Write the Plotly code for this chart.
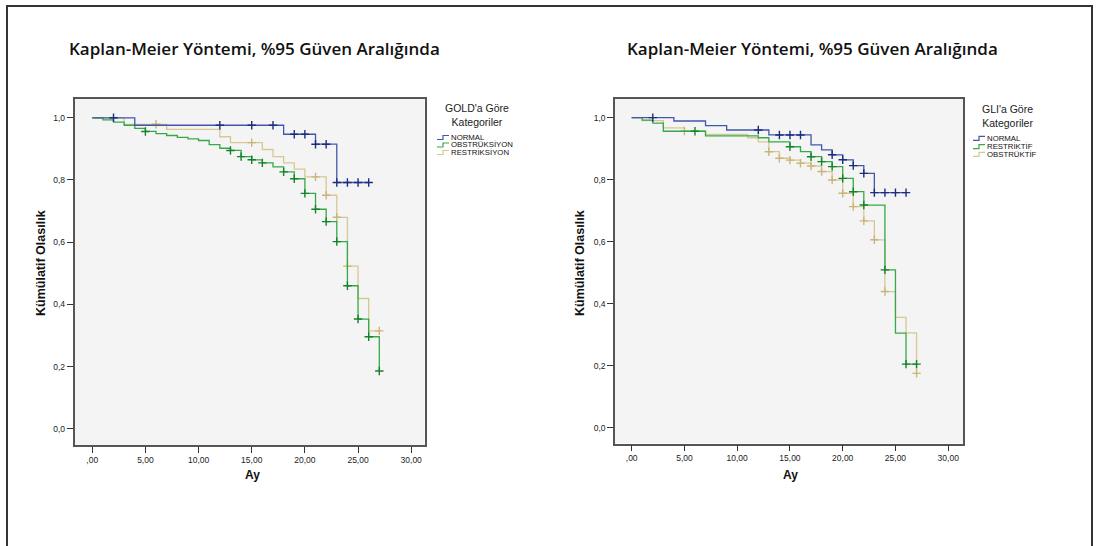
import numpy as np
import plotly.graph_objects as go

W, H = 1097, 546

# ---------------- data ----------------
chart_title = "Kaplan-Meier Yöntemi, %95 Güven Aralığında"
x_title = "Ay"
y_title = "Kümülatif Olasılık"
x_ticks = [0, 5, 10, 15, 20, 25, 30]
x_tick_labels = [",00", "5,00", "10,00", "15,00", "20,00", "25,00", "30,00"]
y_ticks = [0.0, 0.2, 0.4, 0.6, 0.8, 1.0]
y_tick_labels = ["0,0", "0,2", "0,4", "0,6", "0,8", "1,0"]

# Left chart: GOLD categories
gold_legend_title = "GOLD'a Göre<br>Kategoriler"
gold_names = ["NORMAL", "OBSTRÜKSİYON", "RESTRİKSİYON"]
gold_normal_t = [0, 4, 18, 21, 23]
gold_normal_s = [1.0, 0.976, 0.947, 0.915, 0.792]
gold_normal_end = 26
gold_normal_cens = [2, 12, 15, 17, 19, 20, 21, 22, 23, 24, 25, 26]

gold_obs_t = [0, 1, 2, 3, 4, 5, 6, 7, 8, 9, 10, 11, 12, 13, 14, 15, 16, 17, 18, 19, 20, 21, 22, 23, 24, 25, 26, 27]
gold_obs_s = [1.0, 0.993, 0.986, 0.976, 0.966, 0.956, 0.949, 0.943, 0.937, 0.932, 0.927, 0.914, 0.902, 0.895,
              0.875, 0.865, 0.855, 0.842, 0.826, 0.804, 0.757, 0.706, 0.666, 0.602, 0.460, 0.353, 0.296, 0.186]
gold_obs_end = 27
gold_obs_cens = [5, 13, 14, 15, 16, 18, 19, 20, 21, 22, 23, 24, 25, 26, 27]

gold_res_t = [0, 3, 7, 12, 13, 16, 17, 18, 19, 20, 22, 23, 24, 25, 26]
gold_res_s = [1.0, 0.979, 0.963, 0.939, 0.920, 0.898, 0.875, 0.855, 0.835, 0.810, 0.751, 0.680, 0.523, 0.419, 0.315]
gold_res_end = 27
gold_res_cens = [6, 15, 21, 22, 23, 24, 27]

# Right chart: GLI categories
gli_legend_title = "GLI'a Göre<br>Kategoriler"
gli_names = ["NORMAL", "RESTRİKTİF", "OBSTRÜKTİF"]
gli_normal_t = [0, 4, 7, 9, 13, 17, 18, 19, 20, 21, 22, 23]
gli_normal_s = [1.0, 0.989, 0.974, 0.960, 0.944, 0.912, 0.896, 0.880, 0.864, 0.845, 0.820, 0.758]
gli_normal_end = 26
gli_normal_cens = [2, 12, 14, 15, 16, 19, 20, 21, 22, 23, 24, 25, 26]

gli_res_t = [0, 1, 2, 3, 7, 12, 13, 15, 16, 17, 18, 19, 20, 21, 22, 24, 25, 26]
gli_res_s = [1.0, 0.992, 0.982, 0.956, 0.941, 0.935, 0.922, 0.906, 0.890, 0.874, 0.858, 0.842, 0.804,
             0.761, 0.718, 0.509, 0.305, 0.205]
gli_res_end = 27
gli_res_cens = [6, 15, 17, 18, 19, 20, 21, 22, 24, 26, 27]

gli_obs_t = [0, 1, 3, 5, 7, 11, 12, 13, 14, 15, 16, 17, 18, 19, 20, 21, 22, 23, 24, 25, 26, 27]
gli_obs_s = [1.0, 0.99, 0.967, 0.957, 0.946, 0.935, 0.922, 0.890, 0.869, 0.863, 0.853, 0.844, 0.826,
             0.799, 0.756, 0.713, 0.667, 0.606, 0.439, 0.356, 0.306, 0.175]
gli_obs_end = 27
gli_obs_cens = [5, 13, 14, 15, 16, 17, 18, 19, 20, 21, 22, 23, 24, 27]

# ---------------- styles ----------------
line_colors = ["#4257AA", "#35A948", "#D8C793"]
cens_colors = ["#1E2C80", "#15822A", "#C9B57A"]
frame_color = "#555555"
plot_bg = "#F4F4F4"
tick_font = dict(family="Liberation Sans", size=8.5, color="#222")


def px(x):
    return x / W


def py(y):
    return 1 - y / H


fig = go.Figure()

panels = [
    dict(xa="x", ya="y", names=gold_names, legend_title=gold_legend_title,
         series=[(gold_normal_t, gold_normal_s, gold_normal_end, gold_normal_cens),
                 (gold_obs_t, gold_obs_s, gold_obs_end, gold_obs_cens),
                 (gold_res_t, gold_res_s, gold_res_end, gold_res_cens)],
         box=(74.5, 98.5, 424.5, 445.0), xr=[-1.67, 31.25], yr=[-0.052, 1.062],
         title_x=67, ytitle_x=41, xtitle_x=252, leg_x=437, leg_title_x=477,
         leg_y=[137.5, 145.0, 152.5], leg_title_y=115),
    dict(xa="x2", ya="y2", names=gli_names, legend_title=gli_legend_title,
         series=[(gli_normal_t, gli_normal_s, gli_normal_end, gli_normal_cens),
                 (gli_res_t, gli_res_s, gli_res_end, gli_res_cens),
                 (gli_obs_t, gli_obs_s, gli_obs_end, gli_obs_cens)],
         box=(615.0, 99.0, 963.0, 443.5), xr=[-1.58, 31.4], yr=[-0.051, 1.060],
         title_x=625, ytitle_x=580, xtitle_x=790, leg_x=973, leg_title_x=1007,
         leg_y=[138.3, 146.7, 154.3], leg_title_y=116),
]

shapes = []
annotations = []

# outer frame
shapes.append(dict(type="rect", xref="paper", yref="paper", x0=px(7), x1=px(1092), y0=-0.05, y1=py(6),
                   line=dict(color="#333333", width=2), fillcolor="rgba(0,0,0,0)", layer="above"))

for pi, p in enumerate(panels):
    order = [2, 1, 0]  # draw blue last (on top)
    for si in order:
        t, s, end, cens = p["series"][si]
        xs = list(t) + [end]
        ys = list(s) + [s[-1]]
        fig.add_trace(go.Scatter(x=xs, y=ys, mode="lines", line=dict(color=line_colors[si], width=1.3, shape="hv"),
                                 xaxis=p["xa"], yaxis=p["ya"], showlegend=False, hoverinfo="skip"))
        tt = np.array(t)
        idx = np.searchsorted(tt, np.array(cens), side="right") - 1
        cy = np.array(s)[idx]
        fig.add_trace(go.Scatter(x=cens, y=cy, mode="markers",
                                 marker=dict(symbol="cross-thin", size=6,
                                             line=dict(color=cens_colors[si], width=1.4)),
                                 xaxis=p["xa"], yaxis=p["ya"], showlegend=False, hoverinfo="skip"))

    x0, y0, x1, y1 = p["box"]
    axis_common = dict(showline=True, mirror=True, linecolor=frame_color, linewidth=1.5,
                       ticks="outside", ticklen=6, tickwidth=1.2, tickcolor="#333",
                       showgrid=False, zeroline=False, tickfont=tick_font, fixedrange=True)
    sfx = "" if pi == 0 else "2"
    fig.update_layout(**{
        "xaxis" + sfx: dict(domain=[px(x0), px(x1)], range=p["xr"], tickvals=x_ticks, ticktext=x_tick_labels,
                            anchor="y" + sfx, **axis_common),
        "yaxis" + sfx: dict(domain=[py(y1), py(y0)], range=p["yr"], tickvals=y_ticks, ticktext=y_tick_labels,
                            anchor="x" + sfx, **axis_common),
    })

    # chart title
    annotations.append(dict(text=chart_title, xref="paper", yref="paper", x=px(p["title_x"]), y=py(48),
                            xanchor="left", yanchor="middle", showarrow=False,
                            font=dict(family="Open Sans", size=17, color="#111", weight=600)))
    # axis titles
    annotations.append(dict(text="<b>" + y_title + "</b>", xref="paper", yref="paper", x=px(p["ytitle_x"]),
                            y=py(263), textangle=-90, showarrow=False, xanchor="center", yanchor="middle",
                            font=dict(family="Liberation Sans", size=12.5, color="#111")))
    annotations.append(dict(text="<b>" + x_title + "</b>", xref="paper", yref="paper", x=px(p["xtitle_x"]),
                            y=py(475), showarrow=False, xanchor="center", yanchor="middle",
                            font=dict(family="Liberation Sans", size=12, color="#111")))
    # legend
    annotations.append(dict(text=p["legend_title"], xref="paper", yref="paper", x=px(p["leg_title_x"]),
                            y=py(p["leg_title_y"]), showarrow=False, xanchor="center", yanchor="middle",
                            align="center",
                            font=dict(family="Liberation Sans", size=10.5, color="#222")))
    for si, name in enumerate(p["names"]):
        ly = p["leg_y"][si]
        lx = p["leg_x"]
        path = "M {} {} L {} {} L {} {} L {} {}".format(px(lx), py(ly + 2), px(lx + 6), py(ly + 2),
                                                         px(lx + 6), py(ly - 2), px(lx + 12), py(ly - 2))
        shapes.append(dict(type="path", xref="paper", yref="paper", path=path,
                           line=dict(color=line_colors[si], width=1.2)))
        annotations.append(dict(text=name, xref="paper", yref="paper", x=px(lx + 12), y=py(ly),
                                showarrow=False, xanchor="left", yanchor="middle",
                                font=dict(family="Liberation Sans", size=7.8, color="#111")))

fig.update_layout(width=W, height=H, margin=dict(l=0, r=0, t=0, b=0),
                  paper_bgcolor="white", plot_bgcolor=plot_bg, showlegend=False,
                  shapes=shapes, annotations=annotations)

fig.write_html("out.html")
